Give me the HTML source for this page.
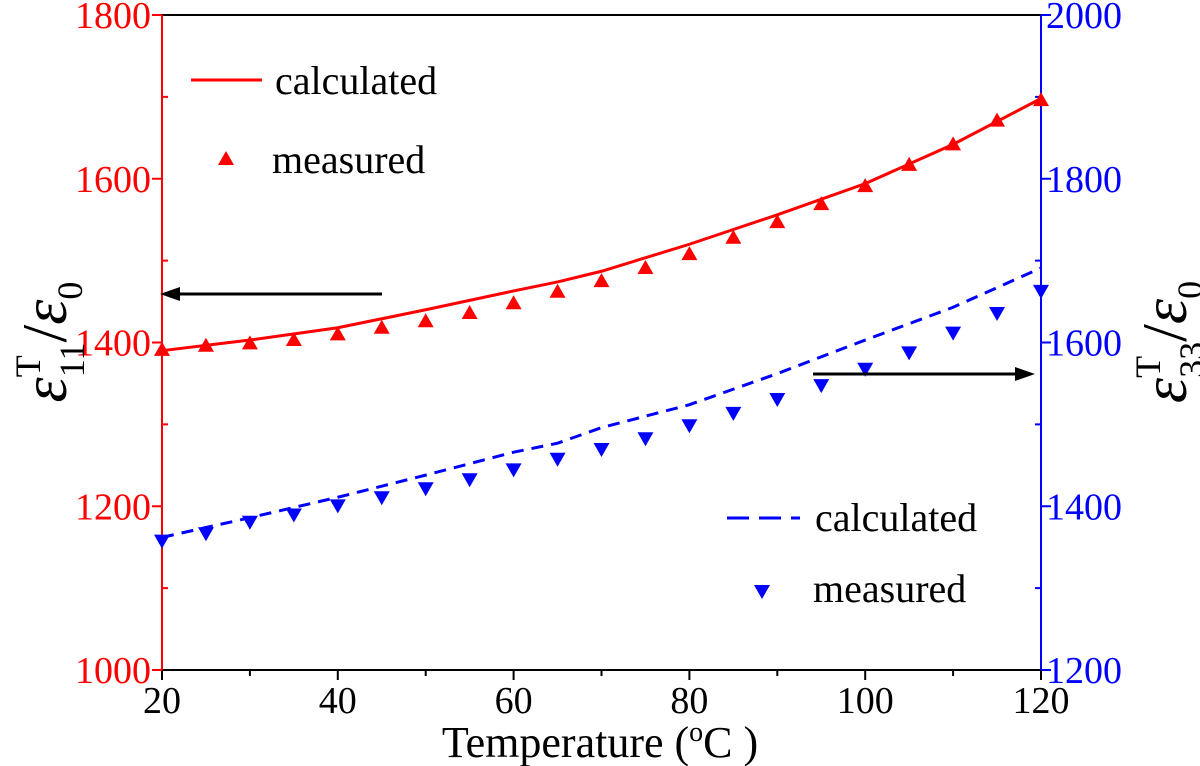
<!DOCTYPE html>
<html><head><meta charset="utf-8"><style>
body{margin:0;background:#fff}
svg{display:block;font-family:"Liberation Serif",serif}
</style></head><body>
<svg id="chart" width="1200" height="766">
<g id="axes"></g><g id="marks"></g><g id="legend"></g>
</svg>
<script>
const temps=[20,25,30,35,40,45,50,55,60,65,70,75,80,85,90,95,100,105,110,115,120];
const eps11Measured=[1391,1396,1399,1403,1410,1418,1426,1436,1448,1462,1475,1491,1508,1528,1547,1569,1591,1617,1642,1671,1696];
const calcTemps=[20,30,40,50,60,65,70,80,90,100,110,120];
const eps11Calc=[1390,1403,1418,1440,1463,1474,1487,1520,1556,1594,1642,1698];
const eps33Measured=[1358,1367,1381,1390,1401,1411,1422,1433,1445,1458,1470,1483,1499,1514,1531,1548,1568,1588,1612,1636,1663];
const eps33Calc=[1362,1386,1411,1438,1466,1477,1496,1524,1562,1603,1643,1691];
const xTicks=[20,40,60,80,100,120];
const leftTicks=[1000,1200,1400,1600,1800];
const rightTicks=[1200,1400,1600,1800,2000];
const L=162,R=1041,T=15,B=670;
const x=v=>L+(v-20)/100*(R-L);
const yl=v=>B-(v-1000)/800*(B-T);
const yr=v=>B-(v-1200)/800*(B-T);
const NS='http://www.w3.org/2000/svg';
function mk(p,tag,a){const e=document.createElementNS(NS,tag);for(const k in a)e.setAttribute(k,a[k]);p.appendChild(e);return e;}
const ax=document.getElementById('axes'),mg=document.getElementById('marks'),lg=document.getElementById('legend');
let e;
e=mk(ax,'line',{x1:L,y1:T,x2:R,y2:T,stroke:'#000','stroke-width':2});

e=mk(ax,'line',{x1:L,y1:B,x2:R,y2:B,stroke:'#000','stroke-width':2});

e=mk(ax,'line',{x1:L,y1:T,x2:L,y2:B,stroke:'red','stroke-width':2});

e=mk(ax,'line',{x1:R,y1:T,x2:R,y2:B,stroke:'blue','stroke-width':2});

xTicks.forEach(v=>{mk(ax,'line',{x1:x(v),y1:B,x2:x(v),y2:B+10,stroke:'#000','stroke-width':2});
 e=mk(ax,'text',{x:x(v),y:B+43,'font-size':38,'text-anchor':'middle'});e.textContent=v;
 });
for(let v=30;v<120;v+=20)mk(ax,'line',{x1:x(v),y1:B,x2:x(v),y2:B+6,stroke:'#000','stroke-width':2});
leftTicks.forEach(v=>{mk(ax,'line',{x1:L-10,y1:yl(v),x2:L,y2:yl(v),stroke:'red','stroke-width':2});
 e=mk(ax,'text',{x:L-11,y:yl(v)+13,'font-size':38,'text-anchor':'end',fill:'red'});e.textContent=v;
 });
for(let v=1100;v<1800;v+=200)mk(ax,'line',{x1:L,y1:yl(v),x2:L+6,y2:yl(v),stroke:'red','stroke-width':2});
rightTicks.forEach(v=>{mk(ax,'line',{x1:R,y1:yr(v),x2:R+10,y2:yr(v),stroke:'blue','stroke-width':2});
 e=mk(ax,'text',{x:R+5,y:yr(v)+13,'font-size':38,fill:'blue'});e.textContent=v;
 });
for(let v=1300;v<2000;v+=200)mk(ax,'line',{x1:R-6,y1:yr(v),x2:R,y2:yr(v),stroke:'blue','stroke-width':2});
e=mk(ax,'text',{x:600,y:757,'font-size':44,'text-anchor':'middle'});e.innerHTML='Temperature (<tspan dy="-16" font-size="28">o</tspan><tspan dy="16">C )</tspan>';

e=mk(ax,'text',{transform:'translate(66,342) rotate(-90)','font-size':64,'text-anchor':'middle'});
e.innerHTML='<tspan font-style="italic">ε</tspan><tspan font-size="36" dy="-26">T</tspan><tspan font-size="36" dx="-22" dy="44">11</tspan><tspan dy="-18">/</tspan><tspan font-style="italic">ε</tspan><tspan font-size="36" dy="16">0</tspan>';

e=mk(ax,'text',{transform:'translate(1186,342) rotate(-90)','font-size':64,'text-anchor':'middle'});
e.innerHTML='<tspan font-style="italic">ε</tspan><tspan font-size="36" dy="-26">T</tspan><tspan font-size="36" dx="-22" dy="44">33</tspan><tspan dy="-18">/</tspan><tspan font-style="italic">ε</tspan><tspan font-size="36" dy="16">0</tspan>';

e=mk(mg,'polyline',{points:calcTemps.map((t,i)=>x(t)+','+yl(eps11Calc[i])).join(' '),fill:'none',stroke:'red','stroke-width':3});

e=mk(mg,'polyline',{points:calcTemps.map((t,i)=>x(t)+','+yr(eps33Calc[i])).join(' '),fill:'none',stroke:'blue','stroke-width':3,'stroke-dasharray':'12 8'});

temps.forEach((t,i)=>{const cx=x(t),cy=yl(eps11Measured[i]);
 e=mk(mg,'polygon',{points:`${cx},${cy-8} ${cx-8},${cy+6} ${cx+8},${cy+6}`,fill:'red'});
 
 const cy2=yr(eps33Measured[i]);
 e=mk(mg,'polygon',{points:`${cx},${cy2+8} ${cx-8},${cy2-6} ${cx+8},${cy2-6}`,fill:'blue'});
 });
e=mk(mg,'line',{x1:382,y1:294,x2:175,y2:294,stroke:'#000','stroke-width':3});

mk(mg,'polygon',{points:'160,294 180,287 180,301',fill:'#000'});
e=mk(mg,'line',{x1:813,y1:374,x2:1020,y2:374,stroke:'#000','stroke-width':3});

mk(mg,'polygon',{points:'1035,374 1015,367 1015,381',fill:'#000'});
e=mk(lg,'line',{x1:191,y1:80,x2:262,y2:80,stroke:'red','stroke-width':3});

e=mk(lg,'text',{x:275,y:94,'font-size':40});e.textContent='calculated';
mk(lg,'polygon',{points:'226,151 218,165 234,165',fill:'red'});
e=mk(lg,'text',{x:272,y:173,'font-size':40});e.textContent='measured';
e=mk(lg,'line',{x1:727,y1:518,x2:800,y2:518,stroke:'blue','stroke-width':3,'stroke-dasharray':'22 10'});

e=mk(lg,'text',{x:815,y:531,'font-size':40});e.textContent='calculated';
mk(lg,'polygon',{points:'762,599 754,585 770,585',fill:'blue'});
e=mk(lg,'text',{x:813,y:602,'font-size':40});e.textContent='measured';
</script>
</body></html>
